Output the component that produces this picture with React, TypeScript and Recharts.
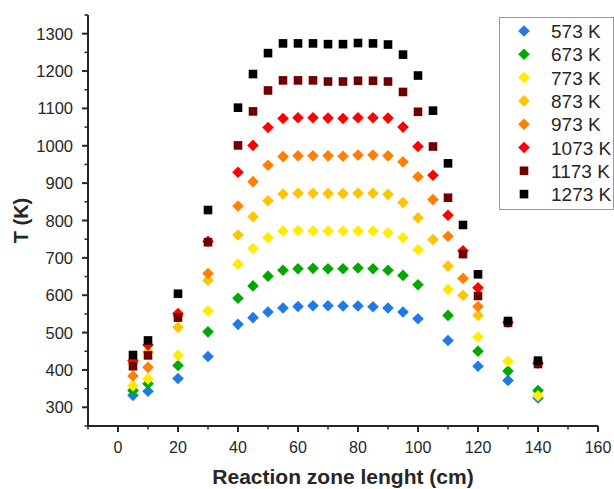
import { ScatterChart, Scatter, XAxis, YAxis, Legend } from 'recharts'

// positions along the reaction zone (cm)
const zonePos = [5, 10, 20, 30, 40, 45, 50, 55, 60, 65, 70, 75, 80, 85, 90, 95, 100, 105, 110, 115, 120, 130, 140]

// measured temperatures, null where no point was taken
const t573 = [332, 343, 377, 436, 522, 540, 555, 566, 570, 572, 572, 571, 571, 569, 566, 555, 537, null, 479, null, 410, 372, 325]
const t673 = [345, 363, 412, 502, 592, 625, 651, 667, 671, 672, 671, 671, 673, 671, 667, 653, 628, null, 546, null, 450, 397, 345]
const t773 = [358, 376, 439, 558, 683, 725, 754, 772, 773, 772, 772, 772, 772, 772, 767, 754, 722, null, 615, null, 488, 423, 331]
const t873 = [418, 448, 514, 640, 761, 810, 853, 871, 873, 873, 872, 872, 873, 873, 870, 848, 807, 749, 678, 600, 546, null, null]
const t973 = [384, 407, 545, 658, 839, 904, 948, 971, 973, 973, 973, 972, 975, 975, 973, 957, 917, 856, 758, 645, 570, null, null]
const t1073 = [425, 467, 551, 744, 929, 1001, 1049, 1073, 1075, 1075, 1074, 1073, 1075, 1075, 1074, 1050, 998, 921, 814, 719, 620, 528, 418]
const t1173 = [410, 439, 540, 742, 1001, 1092, 1148, 1175, 1175, 1175, 1172, 1172, 1174, 1174, 1172, 1144, 1091, 998, 861, 710, 598, 526, 416]
const t1273 = [440, 479, 604, 828, 1102, 1192, 1248, 1274, 1274, 1274, 1272, 1272, 1275, 1274, 1271, 1244, 1188, 1094, 953, 788, 656, 531, 425]

const seriesNames = ['573 K', '673 K', '773 K', '873 K', '973 K', '1073 K', '1173 K', '1273 K']
const seriesColors = ['#1f7ae8', '#00a800', '#ffec00', '#ffc400', '#ff8000', '#ff0000', '#700000', '#000000']
const seriesShapes = ['diamond', 'diamond', 'diamond', 'diamond', 'diamond', 'diamond', 'square', 'square']
const seriesValues = [t573, t673, t773, t873, t973, t1073, t1173, t1273]

const xTicks = [-10, 0, 10, 20, 30, 40, 50, 60, 70, 80, 90, 100, 110, 120, 130, 140, 150, 160]
const yTicks = [250, 300, 350, 400, 450, 500, 550, 600, 650, 700, 750, 800, 850, 900, 950, 1000, 1050, 1100, 1150, 1200, 1250, 1300, 1350]

const FONT = '"Liberation Sans", Arial, sans-serif'
const INK = '#262626'

const toPoints = (values: (number | null)[]) =>
  zonePos
    .map((x, i) => ({ x, y: values[i] }))
    .filter((p) => p.y !== null)

function Marker({ cx, cy, fill, kind }: { cx: number; cy: number; fill: string; kind: string }) {
  if (kind === 'square') {
    const h = 4.3
    return <rect x={cx - h} y={cy - h} width={h * 2} height={h * 2} fill={fill} />
  }
  const r = 5.8
  return <polygon points={`${cx},${cy - r} ${cx + r},${cy} ${cx},${cy + r} ${cx - r},${cy}`} fill={fill} />
}

const XTick = ({ x, y, payload }: any) => {
  const major = payload.value % 20 === 0
  return (
    <g>
      <line x1={x} x2={x} y1={y} y2={y + (major ? 6 : 3.5)} stroke={INK} strokeWidth={major ? 2 : 1.5} />
      {major && (
        <text x={x} y={y + 27} textAnchor="middle" fontSize={16} fontFamily={FONT} fill={INK}>
          {payload.value}
        </text>
      )}
    </g>
  )
}

const YTick = ({ x, y, payload }: any) => {
  const major = payload.value % 100 === 0 && payload.value >= 300 && payload.value <= 1300
  return (
    <g>
      <line x1={x} x2={x - (major ? 6 : 3.5)} y1={y} y2={y} stroke={INK} strokeWidth={major ? 2 : 1.5} />
      {major && (
        <text x={x - 15} y={y + 6} textAnchor="end" fontSize={16.5} fontFamily={FONT} fill={INK}>
          {payload.value}
        </text>
      )}
    </g>
  )
}

const LegendBox = () => (
  <div style={{ width: 115, height: 193, border: '1px solid #9a9a9a', boxSizing: 'border-box', background: '#fff' }}>
    <svg width={113} height={191} style={{ display: 'block' }}>
      {seriesNames.map((name, i) => (
        <g key={name}>
          <Marker cx={24} cy={13 + i * 23.3} fill={seriesColors[i]} kind={seriesShapes[i]} />
          <text x={51} y={13 + i * 23.3 + 7} fontSize={19} fontFamily={FONT} fill={INK}>
            {name}
          </text>
        </g>
      ))}
    </svg>
  </div>
)

export default function App() {
  return (
    <div style={{ position: 'absolute', left: 0, top: 0, background: '#fff' }}>
      <ScatterChart width={614} height={489} margin={{ top: 15, right: 16, bottom: 0, left: 0 }}>
        <XAxis
          type="number"
          dataKey="x"
          domain={[-10, 160]}
          ticks={xTicks}
          interval={0}
          tickSize={0}
          tickMargin={0}
          tickLine={false}
          tick={<XTick />}
          height={63}
          axisLine={{ stroke: INK, strokeWidth: 2 }}
          allowDataOverflow
          label={{
            content: ({ viewBox }: any) => (
              <text
                x={viewBox.x + viewBox.width / 2}
                y={viewBox.y + 58}
                textAnchor="middle"
                fontSize={21}
                fontWeight="bold"
                fontFamily={FONT}
                fill={INK}
              >
                Reaction zone lenght (cm)
              </text>
            ),
          }}
        />
        <YAxis
          type="number"
          dataKey="y"
          domain={[250, 1350]}
          ticks={yTicks}
          interval={0}
          tickSize={0}
          tickMargin={0}
          tickLine={false}
          tick={<YTick />}
          width={88}
          axisLine={{ stroke: INK, strokeWidth: 2 }}
          allowDataOverflow
          label={{
            content: ({ viewBox }: any) => {
              const cy = viewBox.y + viewBox.height / 2
              return (
                <text
                  transform={`translate(28, ${cy}) rotate(-90)`}
                  textAnchor="middle"
                  fontSize={20}
                  fontWeight="bold"
                  fontFamily={FONT}
                  fill={INK}
                >
                  T (K)
                </text>
              )
            },
          }}
        />
        <Legend
          layout="horizontal"
          verticalAlign="middle"
          align="center"
          content={() => <LegendBox />}
          wrapperStyle={{ left: 499, top: 17, width: 115, height: 193 }}
        />
        {seriesValues.map((vals, i) => (
          <Scatter
            key={seriesNames[i]}
            name={seriesNames[i]}
            data={toPoints(vals)}
            fill={seriesColors[i]}
            isAnimationActive={false}
            shape={(p: any) => <Marker cx={p.cx} cy={p.cy} fill={seriesColors[i]} kind={seriesShapes[i]} />}
          />
        ))}
      </ScatterChart>
    </div>
  )
}
